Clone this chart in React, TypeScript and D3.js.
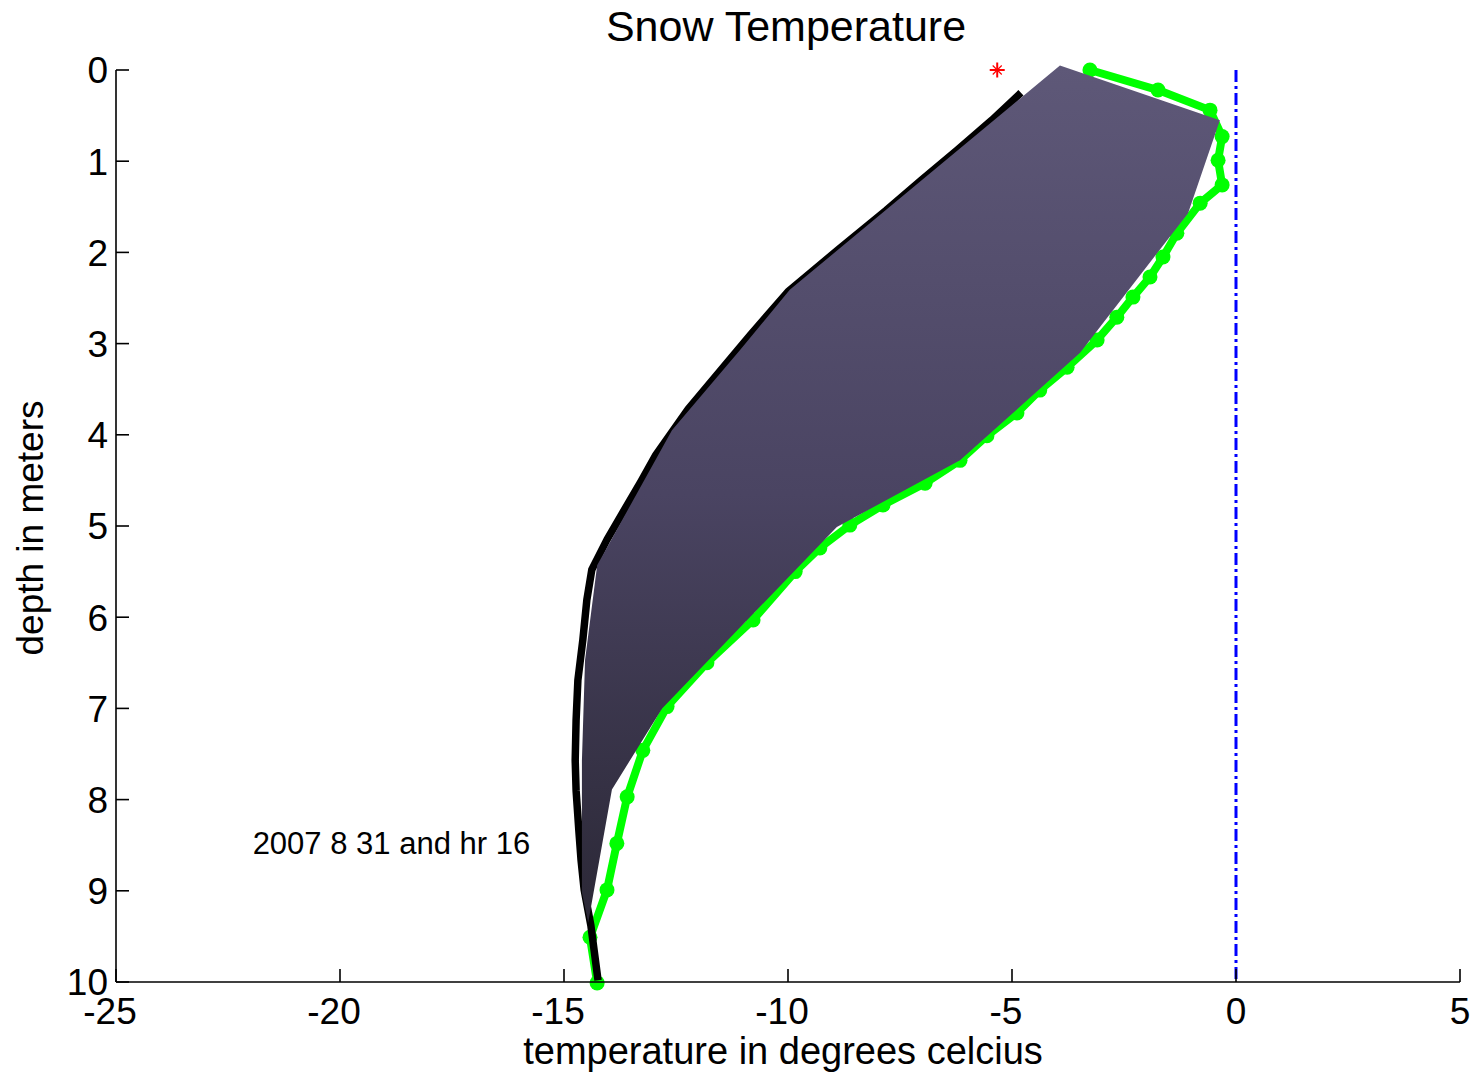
import React from "react";
import * as d3 from "d3";

const W = 1473;
const H = 1072;

// Measured profile drawn with dot markers (temperature °C, depth m)
const probeTemp = [
  -3.26, -1.74, -0.58, -0.31, -0.4, -0.31, -0.8, -1.32, -1.63, -1.92, -2.3, -2.66,
  -3.1, -3.77, -4.38, -4.89, -5.56, -6.16, -6.94, -7.88, -8.62, -9.29, -9.84,
  -10.78, -11.81, -12.7, -13.24, -13.59, -13.82, -14.04, -14.42, -14.26,
];
const probeDepth = [
  0.0, 0.22, 0.44, 0.73, 0.99, 1.26, 1.46, 1.79, 2.05, 2.27, 2.49, 2.71,
  2.96, 3.26, 3.51, 3.76, 4.01, 4.28, 4.53, 4.77, 4.99, 5.24, 5.5,
  6.03, 6.5, 6.98, 7.46, 7.97, 8.48, 8.99, 9.51, 10.01,
];

// Model profile (thick black line)
const modelTemp = [
  -4.8, -5.45, -6.23, -7.03, -7.81, -8.88, -10.0, -10.85, -11.5, -12.23, -12.95,
  -13.28, -13.66, -14.04, -14.38, -14.49, -14.58, -14.69, -14.73, -14.75, -14.73,
  -14.67, -14.62, -14.55, -14.4, -14.24,
];
const modelDepth = [
  0.25, 0.55, 0.88, 1.21, 1.54, 1.97, 2.43, 2.91, 3.29, 3.72, 4.22,
  4.51, 4.83, 5.15, 5.48, 5.81, 6.25, 6.69, 7.13, 7.57, 7.9,
  8.33, 8.66, 8.99, 9.38, 9.98,
];

// Outline of the shaded envelope
const bandTemp = [
  -3.93, -0.36, -1.07, -3.48, -6.16, -8.91, -12.81, -13.93, -14.46, -14.6,
  -14.6, -14.53, -14.26, -12.59, -11.07, -9.96,
];
const bandDepth = [
  -0.05, 0.55, 1.57, 3.1, 4.28, 5.01, 7.0, 7.89, 9.35, 9.02,
  7.57, 6.47, 5.43, 3.95, 3.07, 2.41,
];

// Surface reading
const surfaceTemp = [-5.33];
const surfaceDepth = [0];

const xTicks = [-25, -20, -15, -10, -5, 0, 5];
const yTicks = [0, 1, 2, 3, 4, 5, 6, 7, 8, 9, 10];

const FONT = "'Liberation Sans', Arial, Helvetica, sans-serif";

export default function App() {
  const x = d3.scaleLinear().domain([-25, 5]).range([116, 1460]);
  const y = d3.scaleLinear().domain([0, 10]).range([70, 982]);

  const line = d3
    .line<[number, number]>()
    .x((d) => x(d[0]))
    .y((d) => y(d[1]));

  const probe = probeTemp.map((t, i) => [t, probeDepth[i]] as [number, number]);
  const model = modelTemp.map((t, i) => [t, modelDepth[i]] as [number, number]);
  const band = bandTemp.map((t, i) => [t, bandDepth[i]] as [number, number]);

  const [x0, x1] = x.range();
  const [y0, y1] = y.range();

  return (
    <svg
      width={W}
      height={H}
      viewBox={`0 0 ${W} ${H}`}
      style={{ position: "absolute", left: 0, top: 0, background: "#fff" }}
      fontFamily={FONT}
    >
      <defs>
        <linearGradient
          id="bandFill"
          gradientUnits="userSpaceOnUse"
          x1={0}
          x2={0}
          y1={y(-0.05)}
          y2={y(9.35)}
        >
          <stop offset="0" stopColor="#5e5878" />
          <stop offset="0.5" stopColor="#4a4462" />
          <stop offset="1" stopColor="#2b2836" />
        </linearGradient>
      </defs>
      <rect x={0} y={0} width={W} height={H} fill="#fff" />

      {/* title */}
      <text x={(x0 + x1) / 2 - 2} y={41} textAnchor="middle" fontSize={43} fill="#000">
        Snow Temperature
      </text>

      {/* freezing line */}
      <line
        x1={x(0)}
        x2={x(0)}
        y1={y(0)}
        y2={y(10)}
        stroke="#0000ff"
        strokeWidth={3}
        strokeDasharray="12 4 3 4"
      />

      {/* probe profile */}
      <path
        d={line(probe) || ""}
        fill="none"
        stroke="#00ff00"
        strokeWidth={8}
        strokeLinejoin="round"
      />
      {probe.map((d, i) => (
        <circle key={i} cx={x(d[0])} cy={y(d[1])} r={7.5} fill="#00ff00" />
      ))}

      {/* model profile */}
      <path
        d={line(model) || ""}
        fill="none"
        stroke="#000"
        strokeWidth={7.5}
        strokeLinejoin="round"
      />

      {/* envelope */}
      <path d={(line(band) || "") + "Z"} fill="url(#bandFill)" stroke="none" />

      {/* surface reading */}
      {surfaceTemp.map((t, i) => {
        const cx = x(t);
        const cy = y(surfaceDepth[i]);
        const r = 7.5;
        const rd = 4.5;
        return (
          <g key={i} stroke="#ff0000" strokeWidth={2}>
            <line x1={cx - r} x2={cx + r} y1={cy} y2={cy} />
            <line x1={cx} x2={cx} y1={cy - r} y2={cy + r} />
            <line x1={cx - rd} x2={cx + rd} y1={cy - rd} y2={cy + rd} strokeWidth={1.2} />
            <line x1={cx - rd} x2={cx + rd} y1={cy + rd} y2={cy - rd} strokeWidth={1.2} />
          </g>
        );
      })}

      <text x={x(-21.95)} y={y(8.6)} fontSize={31} fill="#000">
        2007 8 31 and hr 16
      </text>

      {/* axes */}
      <g stroke="#000" strokeWidth={1.6} fill="none">
        <line x1={x0} x2={x0} y1={y0} y2={y1} />
        <line x1={x0} x2={x1} y1={y1} y2={y1} />
        {yTicks.map((v) => (
          <line key={"yt" + v} x1={x0} x2={x0 + 13} y1={y(v)} y2={y(v)} />
        ))}
        {xTicks.map((v) => (
          <line key={"xt" + v} x1={x(v)} x2={x(v)} y1={y1} y2={y1 - 13} />
        ))}
      </g>
      {yTicks.map((v) => (
        <text
          key={"yl" + v}
          x={x0 - 8}
          y={y(v)}
          dy="0.36em"
          textAnchor="end"
          fontSize={37}
          fill="#000"
        >
          {String(v)}
        </text>
      ))}
      {xTicks.map((v) => (
        <text
          key={"xl" + v}
          x={x(v) - (v < 0 ? 6 : 0)}
          y={1024}
          textAnchor="middle"
          fontSize={37}
          fill="#000"
        >
          {String(v)}
        </text>
      ))}

      <text x={(x0 + x1) / 2 - 5} y={1064} textAnchor="middle" fontSize={38} fill="#000">
        temperature in degrees celcius
      </text>
      <text
        transform={`translate(43, ${(y0 + y1) / 2 + 2}) rotate(-90)`}
        textAnchor="middle"
        fontSize={37}
        fill="#000"
      >
        depth in meters
      </text>
    </svg>
  );
}
